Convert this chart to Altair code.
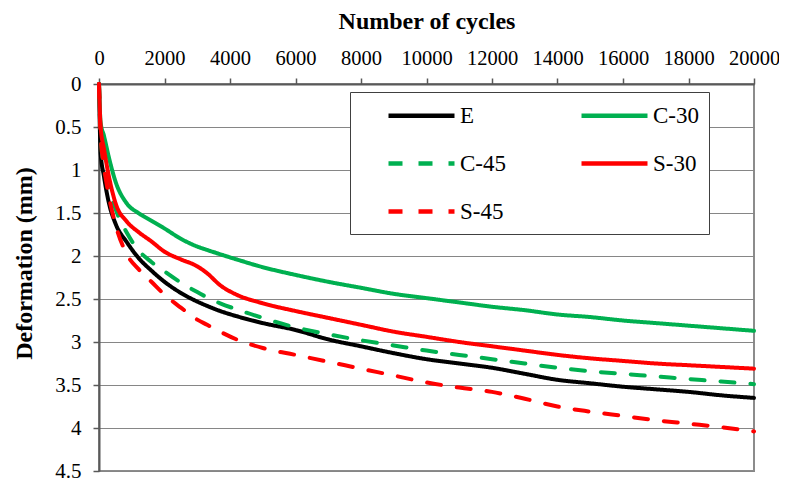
import altair as alt
import pandas as pd

cycles = [0, 50, 150, 300, 500, 850, 1200, 1600, 2000, 2500, 3000, 3300, 3700, 4200,
          5000, 6000, 7000, 8000, 9000, 10000, 11000, 12000, 13000, 14000, 15000,
          16000, 17000, 18000, 19000, 20000]

series_names = ["E", "C-30", "C-45", "S-30", "S-45"]

e_vals = [0, 0.8, 1.07, 1.38, 1.62, 1.84, 2.02, 2.17, 2.3, 2.43, 2.53, 2.58, 2.64, 2.7,
          2.78, 2.86, 2.97, 3.05, 3.13, 3.2, 3.25, 3.3, 3.37, 3.44, 3.48, 3.52, 3.55,
          3.58, 3.62, 3.65]
c30_vals = [0, 0.45, 0.6, 0.85, 1.13, 1.39, 1.5, 1.59, 1.68, 1.8, 1.89, 1.93, 1.98, 2.04,
            2.13, 2.22, 2.3, 2.37, 2.44, 2.49, 2.54, 2.59, 2.63, 2.68, 2.71, 2.75, 2.78,
            2.81, 2.84, 2.87]
c45_vals = [0, 0.6, 0.95, 1.2, 1.45, 1.73, 1.93, 2.07, 2.18, 2.31, 2.42, 2.48, 2.55, 2.62,
            2.72, 2.83, 2.91, 2.98, 3.04, 3.1, 3.15, 3.2, 3.25, 3.3, 3.34, 3.37, 3.4,
            3.43, 3.46, 3.49]
s30_vals = [0, 0.5, 0.75, 1.07, 1.38, 1.6, 1.72, 1.83, 1.95, 2.04, 2.12, 2.2, 2.34, 2.45,
            2.55, 2.64, 2.72, 2.8, 2.88, 2.94, 3.0, 3.05, 3.1, 3.15, 3.19, 3.22, 3.25,
            3.27, 3.29, 3.31]
s45_vals = [0, 0.6, 0.95, 1.3, 1.63, 1.98, 2.15, 2.3, 2.45, 2.6, 2.74, 2.8, 2.88, 2.97,
            3.07, 3.15, 3.23, 3.31, 3.39, 3.47, 3.53, 3.58, 3.66, 3.75, 3.81, 3.86, 3.91,
            3.95, 3.99, 4.04]

all_vals = [e_vals, c30_vals, c45_vals, s30_vals, s45_vals]

rows = []
for name, vals in zip(series_names, all_vals):
    for i, (c, v) in enumerate(zip(cycles, vals)):
        rows.append({"series": name, "cycles": c, "def": v, "idx": i})
df = pd.DataFrame(rows)

x_ticks = list(range(0, 20001, 2000))
y_ticks = [0, 0.5, 1, 1.5, 2, 2.5, 3, 3.5, 4, 4.5]

FONT = "Liberation Serif"

color_scale = alt.Scale(domain=series_names,
                        range=["#000000", "#00B050", "#00B050", "#FF0000", "#FF0000"])
dash_scale = alt.Scale(domain=series_names,
                       range=[[1, 0], [1, 0], [14, 16], [1, 0], [14, 16]])

legend = alt.Legend(
    title=None, orient="none", legendX=251, legendY=8, columns=2,
    direction="horizontal",
    fillColor="white", strokeColor="#404040", padding=10,
    symbolType="M-3,0H3", symbolSize=484, symbolStrokeWidth=4.5,
    labelFont=FONT, labelFontSize=23, labelColor="black", labelOffset=25,
    rowPadding=22, columnPadding=47, gridAlign="all", symbolOffset=48,
)

chart = alt.Chart(df).mark_line(strokeWidth=4, strokeCap="round", interpolate="monotone").encode(
    x=alt.X("cycles:Q", scale=alt.Scale(domain=[0, 20000], nice=False),
            axis=alt.Axis(orient="top", values=x_ticks, format="d", title="Number of cycles",
                          grid=False, tickSize=6, labelPadding=10, titlePadding=15,
                          labelFlush=False, labelOverlap=False,
                          labelFont=FONT, labelFontSize=20.5, titleFont=FONT, titleFontSize=24)),
    y=alt.Y("def:Q", scale=alt.Scale(domain=[0, 4.5], reverse=True, nice=False),
            axis=alt.Axis(values=y_ticks, format="~g", title="Deformation (mm)",
                          grid=True, gridColor="#868686", gridWidth=1, tickSize=6,
                          labelPadding=12, titlePadding=18, titleY=179, labelOverlap=False,
                          labelFont=FONT, labelFontSize=21, titleFont=FONT, titleFontSize=24)),
    color=alt.Color("series:N", scale=color_scale, legend=legend),
    strokeDash=alt.StrokeDash("series:N", scale=dash_scale, legend=legend),
    order="idx:Q",
).properties(
    width=655, height=387,
    autosize=alt.AutoSizeParams(type="none"),
    padding={"left": 91, "top": 76, "right": 25, "bottom": 13},
).configure_view(
    stroke="#8c8c8c", strokeWidth=2
).configure_axis(
    labelColor="black", titleFontWeight="bold", titleColor="black",
    domainColor="#595959", domainWidth=2, tickColor="#595959", tickWidth=1.5,
)

chart.save("out.html", embed_options={"renderer": "svg", "actions": False})
